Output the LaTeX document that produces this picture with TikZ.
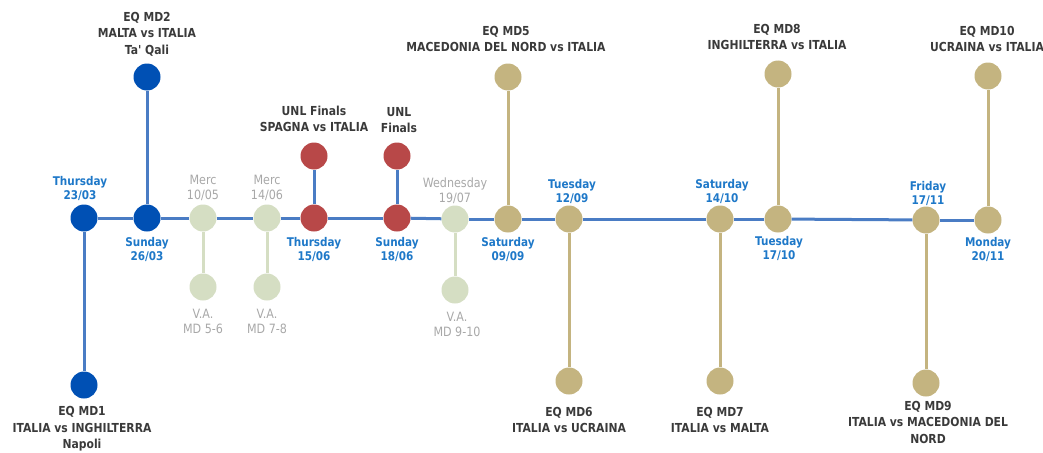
\documentclass[tikz,border=0pt]{standalone}
\usepackage{fontspec}
\setmainfont{DejaVu Sans}
\newfontfamily\narrowf[FakeStretch=0.87]{DejaVu Sans}
\definecolor{dblue}{HTML}{0050B4}
\definecolor{lblue}{HTML}{4A7CC4}
\definecolor{tblue}{HTML}{1E78C8}
\definecolor{cred}{HTML}{B84848}
\definecolor{cgreen}{HTML}{D5DEC3}
\definecolor{ctan}{HTML}{C4B480}
\definecolor{cgrey}{HTML}{A8A8A8}
\definecolor{cdark}{HTML}{3A3A3A}
\tikzset{
  dot/.style={circle,minimum size=27pt,inner sep=0pt,draw=none},
  bdot/.style={dot,fill=dblue},
  rdot/.style={dot,fill=cred},
  gdot/.style={dot,fill=cgreen},
  tdot/.style={dot,fill=ctan},
  lab/.style={align=center,inner sep=0pt},
  datelab/.style={lab,text=tblue,font=\narrowf\fontsize{12}{14}\selectfont\bfseries},
  darklab/.style={lab,text=cdark,font=\narrowf\fontsize{12.4}{16.5}\selectfont\bfseries},
  greylab/.style={lab,text=cgrey,font=\narrowf\fontsize{12.8}{15}\selectfont},
  bline/.style={draw=lblue,line width=3pt},
  gline/.style={draw=cgreen,line width=3pt},
  tline/.style={draw=ctan,line width=3pt},
}
\begin{document}
\begin{tikzpicture}[x=1pt,y=-1pt]
\useasboundingbox (0,0) rectangle (1043,452);
% main nodes
\node[bdot] (m1) at (84,218) {};
\node[bdot] (m2) at (147,218) {};
\node[gdot] (m3) at (203,218) {};
\node[gdot] (m4) at (267,218) {};
\node[rdot] (m5) at (314,218) {};
\node[rdot] (m6) at (397,218) {};
\node[gdot] (m7) at (455,219) {};
\node[tdot] (m8) at (508,219) {};
\node[tdot] (m9) at (569,219) {};
\node[tdot] (m10) at (720,219) {};
\node[tdot] (m11) at (778,219) {};
\node[tdot] (m12) at (926,220) {};
\node[tdot] (m13) at (988,220) {};
% branch nodes
\node[bdot] (b1) at (84,385) {};
\node[bdot] (b2) at (147,77) {};
\node[gdot] (b3) at (203,287) {};
\node[gdot] (b4) at (267,287) {};
\node[rdot] (b5) at (314,156) {};
\node[rdot] (b6) at (397,156) {};
\node[gdot] (b7) at (455,290) {};
\node[tdot] (b8) at (508,77) {};
\node[tdot] (b9) at (569,381) {};
\node[tdot] (b10) at (720,381) {};
\node[tdot] (b11) at (778,74) {};
\node[tdot] (b12) at (926,383) {};
\node[tdot] (b13) at (988,76) {};
% main line
\draw[bline] (m1) -- (m2);
\draw[bline] (m2) -- (m3);
\draw[bline] (m3) -- (m4);
\draw[bline] (m4) -- (m5);
\draw[bline] (m5) -- (m6);
\draw[bline] (m6) -- (m7);
\draw[bline] (m7) -- (m8);
\draw[bline] (m8) -- (m9);
\draw[bline] (m9) -- (m10);
\draw[bline] (m10) -- (m11);
\draw[bline] (m11) -- (m12);
\draw[bline] (m12) -- (m13);
% branches
\draw[bline] (m1) -- (b1);
\draw[bline] (m2) -- (b2);
\draw[gline] (m3) -- (b3);
\draw[gline] (m4) -- (b4);
\draw[bline] (m5) -- (b5);
\draw[bline] (m6) -- (b6);
\draw[gline] (m7) -- (b7);
\draw[tline] (m8) -- (b8);
\draw[tline] (m9) -- (b9);
\draw[tline] (m10) -- (b10);
\draw[tline] (m11) -- (b11);
\draw[tline] (m12) -- (b12);
\draw[tline] (m13) -- (b13);
% date labels
\node[datelab] (d1) at (80,188) {Thursday\\23/03};
\node[datelab] (d2) at (147,249) {Sunday\\26/03};
\node[greylab] (d3) at (203,188) {Merc\\10/05};
\node[greylab] (d4) at (267,188) {Merc\\14/06};
\node[datelab] (d5) at (314,249) {Thursday\\15/06};
\node[datelab] (d6) at (397,249) {Sunday\\18/06};
\node[greylab] (d7) at (455,191) {Wednesday\\19/07};
\node[datelab] (d8) at (508,249) {Saturday\\09/09};
\node[datelab] (d9) at (572,191) {Tuesday\\12/09};
\node[datelab] (d10) at (722,191) {Saturday\\14/10};
\node[datelab] (d11) at (779,248) {Tuesday\\17/10};
\node[datelab] (d12) at (928,193) {Friday\\17/11};
\node[datelab] (d13) at (988,249) {Monday\\20/11};
% event labels
\node[darklab] (e1) at (82,429) {EQ MD1\\ITALIA vs INGHILTERRA\\Napoli};
\node[darklab] (e2) at (147,34) {EQ MD2\\MALTA vs ITALIA\\Ta' Qali};
\node[greylab] (e3) at (203,321) {V.A.\\MD 5-6};
\node[greylab] (e4) at (267,321) {V.A.\\MD 7-8};
\node[darklab] (e5) at (314,119) {UNL Finals\\SPAGNA vs ITALIA};
\node[darklab] (e6) at (399,120) {UNL\\Finals};
\node[greylab] (e7) at (457,324) {V.A.\\MD 9-10};
\node[darklab] (e8) at (506,39) {EQ MD5\\MACEDONIA DEL NORD vs ITALIA};
\node[darklab] (e9) at (569,420) {EQ MD6\\ITALIA vs UCRAINA};
\node[darklab] (e10) at (720,420) {EQ MD7\\ITALIA vs MALTA};
\node[darklab] (e11) at (777,37) {EQ MD8\\INGHILTERRA vs ITALIA};
\node[darklab] (e12) at (928,422) {EQ MD9\\ITALIA vs MACEDONIA DEL\\NORD};
\node[darklab] (e13) at (987,39) {EQ MD10\\UCRAINA vs ITALIA};
\end{tikzpicture}
\end{document}
